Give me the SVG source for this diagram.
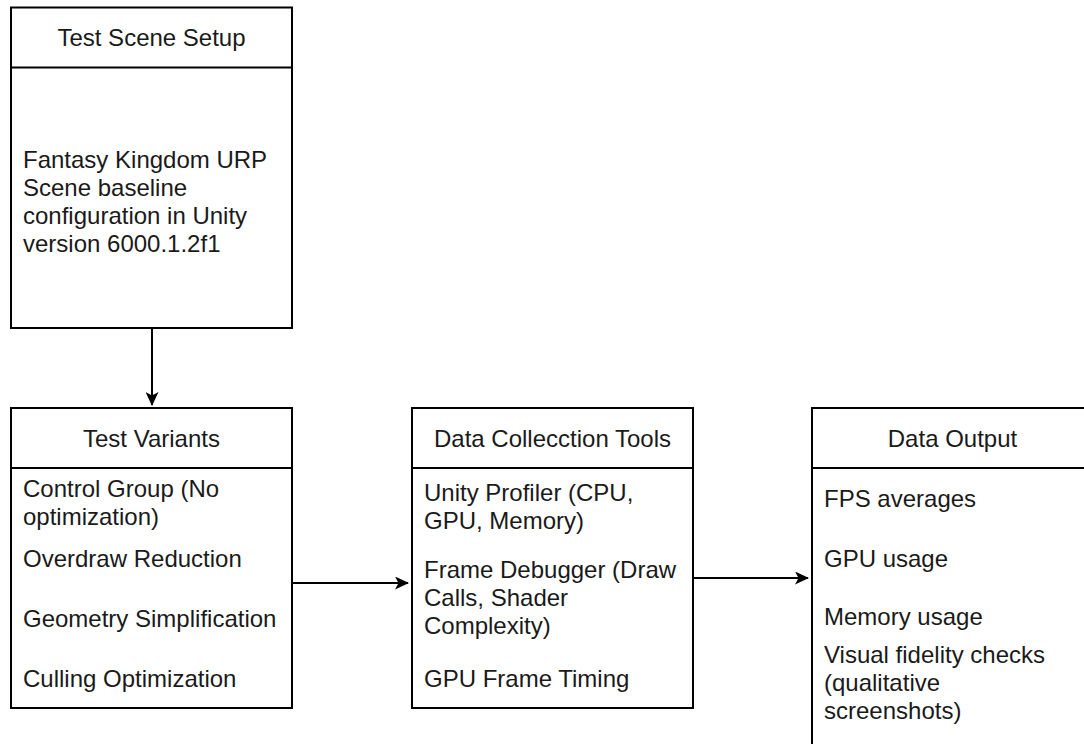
<svg xmlns="http://www.w3.org/2000/svg" width="1084" height="744" viewBox="0 0 1084 744">
<style>
  .box { fill: #ffffff; stroke: #000000; stroke-width: 2; }
  .div { stroke: #000000; stroke-width: 2; }
  .t { font-family: "Liberation Sans", Arial, sans-serif; font-size: 24px; fill: #1a1a1a; }
  .c { text-anchor: middle; }
  .edge { fill: none; stroke: #000000; stroke-width: 2; }
</style>
<defs>
  <marker id="arr" viewBox="0 0 14 13" refX="13" refY="6.5" markerWidth="14" markerHeight="13" markerUnits="userSpaceOnUse" orient="auto">
    <path d="M0,0 L14,6.5 L0,13 L3.5,6.5 Z" fill="#000000"/>
  </marker>
</defs>
<rect width="1084" height="744" fill="#ffffff"/>

<g id="connectors">
  <path class="edge" d="M152,328 L152,405" marker-end="url(#arr)"/>
  <path class="edge" d="M292,583 L408,583" marker-end="url(#arr)"/>
  <path class="edge" d="M693,578 L808,578" marker-end="url(#arr)"/>
</g>

<g id="test-scene-setup">
  <rect class="box" x="11" y="7.5" width="281" height="320.5"/>
  <line class="div" x1="11" y1="67.5" x2="292" y2="67.5"/>
  <text class="t c" x="151.5" y="46">Test Scene Setup</text>
  <text class="t" x="23" y="168">Fantasy Kingdom URP</text>
  <text class="t" x="23" y="196">Scene baseline</text>
  <text class="t" x="23" y="224">configuration in Unity</text>
  <text class="t" x="23" y="252">version 6000.1.2f1</text>
</g>

<g id="test-variants">
  <rect class="box" x="11" y="408" width="281" height="300"/>
  <line class="div" x1="11" y1="468" x2="292" y2="468"/>
  <text class="t c" x="151.5" y="447">Test Variants</text>
  <text class="t" x="23" y="497">Control Group (No</text>
  <text class="t" x="23" y="525">optimization)</text>
  <text class="t" x="23" y="567">Overdraw Reduction</text>
  <text class="t" x="23" y="627">Geometry Simplification</text>
  <text class="t" x="23" y="687">Culling Optimization</text>
</g>

<g id="data-collection-tools">
  <rect class="box" x="412" y="408" width="281" height="300"/>
  <line class="div" x1="412" y1="468" x2="693" y2="468"/>
  <text class="t c" x="552.5" y="447">Data Collecction Tools</text>
  <text class="t" x="424" y="501">Unity Profiler (CPU,</text>
  <text class="t" x="424" y="529">GPU, Memory)</text>
  <text class="t" x="424" y="578">Frame Debugger (Draw</text>
  <text class="t" x="424" y="606">Calls, Shader</text>
  <text class="t" x="424" y="634">Complexity)</text>
  <text class="t" x="424" y="687">GPU Frame Timing</text>
</g>

<g id="data-output">
  <rect class="box" x="812" y="408" width="281" height="345"/>
  <line class="div" x1="812" y1="468" x2="1093" y2="468"/>
  <text class="t c" x="952.5" y="447">Data Output</text>
  <text class="t" x="824" y="507">FPS averages</text>
  <text class="t" x="824" y="567">GPU usage</text>
  <text class="t" x="824" y="625">Memory usage</text>
  <text class="t" x="824" y="663">Visual fidelity checks</text>
  <text class="t" x="824" y="691">(qualitative</text>
  <text class="t" x="824" y="719">screenshots)</text>
</g>
</svg>
